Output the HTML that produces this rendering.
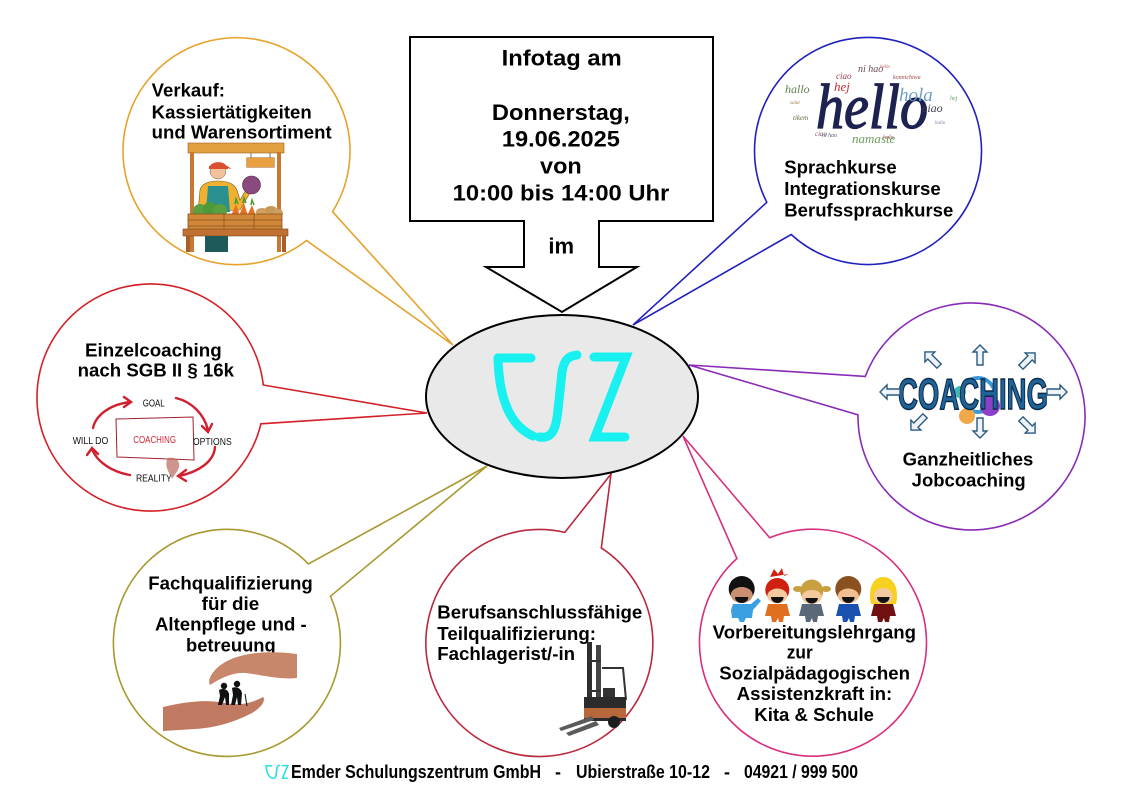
<!DOCTYPE html>
<html><head><meta charset="utf-8">
<style>
html,body{margin:0;padding:0;background:#fff;}
svg{display:block;}
.t{font-family:"Liberation Sans",Arial,sans-serif;font-weight:bold;fill:#000;}
</style></head><body>
<svg width="1123" height="794" viewBox="0 0 1123 794" xmlns="http://www.w3.org/2000/svg">
<rect width="1123" height="794" fill="#fff"/>

<!-- Bubbles with callout wedges -->
<g fill="#fff" stroke-width="1.6" stroke-linejoin="miter">
  <path d="M332.5 211.7 L453 345 L306.5 240.5 A113.5 113.5 0 1 1 332.5 211.7 Z" stroke="#e6a22c"/>
  <path d="M766.8 202.3 L633 325 L791.2 234.5 A113.5 113.5 0 1 0 766.8 202.3 Z" stroke="#2020bf"/>
  <path d="M263.3 385 L427 413 L260.9 423.8 A113.5 113.5 0 1 1 263.3 385 Z" stroke="#d42027"/>
  <path d="M865.3 376.4 L689 365 L858 414.9 A113.5 113.5 0 1 0 865.3 376.4 Z" stroke="#8a2bb8"/>
  <path d="M308.4 563.9 L487 466 L330.4 596.3 A113.5 113.5 0 1 1 308.4 563.9 Z" stroke="#a8982e"/>
  <path d="M564.8 532.4 L611 474 L601.3 547.9 A113.5 113.5 0 1 1 564.8 532.4 Z" stroke="#b8293c"/>
  <path d="M736.9 558.5 L683 436 L769.7 537.8 A113.5 113.5 0 1 1 736.9 558.5 Z" stroke="#d6307e"/>
</g>

<!-- Top callout box -->
<polygon points="410,37 713,37 713,221 599,221 599,267 637,267 562,312 486,267 524,267 524,221 410,221" fill="#fff" stroke="#000" stroke-width="2"/>
<g class="t" font-size="22" text-anchor="middle">
  <text class="t" x="561.7" y="65.7" textLength="120" lengthAdjust="spacingAndGlyphs">Infotag am</text>
  <text class="t" x="560.9" y="120" textLength="138" lengthAdjust="spacingAndGlyphs">Donnerstag,</text>
  <text class="t" x="560.9" y="146.7" textLength="118" lengthAdjust="spacingAndGlyphs">19.06.2025</text>
  <text class="t" x="560.9" y="173.5" textLength="41.7" lengthAdjust="spacingAndGlyphs">von</text>
  <text class="t" x="561" y="200.7" textLength="216.6" lengthAdjust="spacingAndGlyphs">10:00 bis 14:00 Uhr</text>
  <text class="t" x="561.2" y="253.3" textLength="25.7" lengthAdjust="spacingAndGlyphs">im</text>
</g>

<!-- Central ellipse -->
<ellipse cx="562" cy="396.5" rx="136" ry="81.5" fill="#e9e9e9" stroke="#000" stroke-width="2"/>
<g fill="none" stroke="#19f0f0" stroke-width="9" stroke-linecap="round" stroke-linejoin="round">
  <path d="M498 358 L531 358"/>
  <path d="M498 358 C499 395 508 425 533 436"/>
  <path d="M539 437 C552 439 556 430 558 410 L562 372 C564 360 568 356 577 355"/>
  <path d="M594 357 L626 357 L595 437 L625 437" stroke-linejoin="miter"/>
</g>

<!-- Bubble 1 text + market stall -->
<g class="t" font-size="18">
  <text class="t" x="151.7" y="96.7" textLength="73.3" lengthAdjust="spacingAndGlyphs">Verkauf:</text>
  <text class="t" x="151.7" y="118.3" textLength="160" lengthAdjust="spacingAndGlyphs">Kassiertätigkeiten</text>
  <text class="t" x="151.7" y="138.3" textLength="180" lengthAdjust="spacingAndGlyphs">und Warensortiment</text>
</g>
<g>
  <rect x="188" y="143" width="96" height="10" fill="#e3a040" stroke="#a06020" stroke-width="0.6"/>
  <rect x="190" y="152" width="4" height="100" fill="#c87830"/>
  <rect x="277" y="152" width="4" height="100" fill="#c87830"/>
  <line x1="251" y1="153" x2="251" y2="158" stroke="#555" stroke-width="0.8"/>
  <line x1="270" y1="153" x2="270" y2="158" stroke="#555" stroke-width="0.8"/>
  <rect x="246.7" y="157.7" width="27.6" height="9.6" fill="#e8a040" stroke="#a06020" stroke-width="0.5"/>
  <path d="M198 212 L200 190 C202 183 209 181 218 181 C227 181 234 183 237 190 L240 200 L246 190 L250 193 L240 210 Z" fill="#f0b030" stroke="#7a5a20" stroke-width="0.6"/>
  <path d="M208 186 L228 186 L230 212 L206 212 Z" fill="#2a9090"/>
  <circle cx="218" cy="171" r="8" fill="#f2c29a" stroke="#7a5a40" stroke-width="0.5"/>
  <path d="M209 169 C209 160 227 160 227 168 L232 169 L227 166 Z" fill="#d85030"/>
  <rect x="209" y="166" width="19" height="3" fill="#d85030"/>
  <circle cx="251.5" cy="185" r="9" fill="#8a4a80" stroke="#5a2a50" stroke-width="0.6"/>
  <circle cx="200" cy="211" r="7" fill="#5aa040"/>
  <circle cx="210" cy="209" r="7" fill="#4e9a38"/>
  <circle cx="220" cy="211" r="7" fill="#5aa040"/>
  <path d="M231 216 L236 204 L240 216 Z M239 216 L244 203 L248 216 Z M247 216 L252 205 L256 216 Z" fill="#e87020"/>
  <path d="M235 204 L236 199 L238 204 M243 203 L244 198 L246 203 M251 205 L252 200 L254 205" stroke="#4a9a30" stroke-width="1.5" fill="none"/>
  <ellipse cx="262" cy="212" rx="6" ry="4" fill="#d0a060"/>
  <ellipse cx="271" cy="210" rx="6" ry="4" fill="#c89858"/>
  <ellipse cx="278" cy="213" rx="5" ry="4" fill="#d0a060"/>
  <rect x="188" y="214" width="94" height="18" fill="#d08838" stroke="#8a5020" stroke-width="0.8"/>
  <line x1="188" y1="220" x2="282" y2="220" stroke="#8a5020" stroke-width="0.7"/>
  <line x1="188" y1="226" x2="282" y2="226" stroke="#8a5020" stroke-width="0.7"/>
  <line x1="224" y1="214" x2="224" y2="232" stroke="#8a5020" stroke-width="0.8"/>
  <line x1="254" y1="214" x2="254" y2="232" stroke="#8a5020" stroke-width="0.8"/>
  <rect x="183" y="229" width="105" height="7" fill="#c07030" stroke="#7a4a20" stroke-width="0.6"/>
  <rect x="186" y="236" width="4" height="16" fill="#a86028"/>
  <rect x="282" y="236" width="4" height="16" fill="#a86028"/>
  <rect x="205" y="236" width="23" height="16" fill="#1e5a5a"/>
</g>

<!-- Bubble 2 text + hello cloud -->
<g>
  <text x="816" y="128" font-family="Liberation Serif, serif" font-style="italic" font-size="64" fill="#1e2250" stroke="#1e2250" stroke-width="1.3" textLength="112" lengthAdjust="spacingAndGlyphs">hello</text>
  <g font-family="Liberation Serif, serif" font-style="italic">
    <text x="858" y="72" font-size="10" fill="#6a4a5a">ni hao</text>
    <text x="836" y="79" font-size="9" fill="#a04050">ciao</text>
    <text x="834" y="91" font-size="13" fill="#c03030">hej</text>
    <text x="785" y="93" font-size="12" fill="#608050">hallo</text>
    <text x="899" y="101" font-size="19" fill="#70a0c8">hola</text>
    <text x="922" y="112" font-size="12" fill="#404050">ciao</text>
    <text x="852" y="143" font-size="13" fill="#70a060">namaste</text>
    <text x="893" y="79" font-size="6" fill="#a04040">konnichiwa</text>
    <text x="815" y="136" font-size="7" fill="#805060">ciao</text>
    <text x="822" y="137" font-size="6" fill="#506080">ni hao</text>
    <text x="793" y="120" font-size="7" fill="#6a6a40">tikem</text>
    <text x="883" y="139" font-size="6" fill="#a05050">hola</text>
    <text x="950" y="100" font-size="6" fill="#60a060">hej</text>
    <text x="790" y="104" font-size="5" fill="#a08040">salut</text>
    <text x="880" y="68" font-size="5" fill="#b06060">hello</text>
    <text x="935" y="124" font-size="5" fill="#8080a0">hallo</text>
  </g>
</g>
<g class="t" font-size="18">
  <text class="t" x="784.3" y="173.3" textLength="112.4" lengthAdjust="spacingAndGlyphs">Sprachkurse</text>
  <text class="t" x="784.3" y="195" textLength="156.4" lengthAdjust="spacingAndGlyphs">Integrationskurse</text>
  <text class="t" x="784.3" y="216.7" textLength="169" lengthAdjust="spacingAndGlyphs">Berufssprachkurse</text>
</g>

<!-- Bubble 3 text + coaching cycle -->
<g class="t" font-size="18">
  <text class="t" x="85" y="356.7" textLength="136.7" lengthAdjust="spacingAndGlyphs">Einzelcoaching</text>
  <text class="t" x="77.7" y="376.7" textLength="156.3" lengthAdjust="spacingAndGlyphs">nach SGB II § 16k</text>
</g>
<g>
  <path d="M116 419 L193 417 L194 460 L117 457 Z" fill="#fff" stroke="#a02030" stroke-width="1"/>
  <g font-family="Liberation Sans Narrow, Liberation Sans, sans-serif" font-size="10">
    <text x="142.7" y="406.5" textLength="22" lengthAdjust="spacingAndGlyphs" fill="#111">GOAL</text>
    <text x="193" y="445" textLength="38.7" lengthAdjust="spacingAndGlyphs" fill="#111">OPTIONS</text>
    <text x="72.7" y="444" textLength="35.6" lengthAdjust="spacingAndGlyphs" fill="#111">WILL DO</text>
    <text x="136" y="481.5" textLength="35.7" lengthAdjust="spacingAndGlyphs" fill="#111">REALITY</text>
    <text x="133.3" y="443" textLength="42.7" lengthAdjust="spacingAndGlyphs" fill="#d02838">COACHING</text>
  </g>
  <g fill="none" stroke="#d02030" stroke-width="2.4" stroke-linecap="round">
    <path d="M93 428 C96 414 112 404 130 402"/>
    <path d="M124 397 L131 402 L124 407"/>
    <path d="M176 398 C192 402 204 414 208 430"/>
    <path d="M202 426 L208 432 L212 424"/>
    <path d="M215 447 C214 462 198 472 179 476"/>
    <path d="M186 470 L178 476 L186 481"/>
    <path d="M130 475 C112 472 97 462 92 449"/>
    <path d="M87 455 L92 448 L98 454"/>
  </g>
  <path d="M168 458 C176 456 182 462 178 470 C174 476 170 482 172 478 C168 472 164 464 168 458 Z" fill="#b8685a" opacity="0.7"/>
</g>

<!-- Bubble 4 text + COACHING graphic -->
<g>
  <circle cx="978" cy="395" r="17" fill="none" stroke="#3a9ad8" stroke-width="4"/>
  <circle cx="990" cy="406" r="10" fill="#8a40c8"/>
  <circle cx="967" cy="416" r="8" fill="#f0a848"/>
  <circle cx="960" cy="392" r="6" fill="#40b8b0"/>
  <text x="898" y="409" font-family="Liberation Sans, sans-serif" font-weight="bold" font-size="44" fill="#1f6498" stroke="#0c2a4a" stroke-width="1.5" textLength="150" lengthAdjust="spacingAndGlyphs">COACHING</text>
  <g fill="#eef4fa" stroke="#2a5a80" stroke-width="1.4" stroke-linejoin="miter">
    <polygon transform="translate(980,355)" points="0,-10 7,-3 3,-3 3,10 -3,10 -3,-3 -7,-3"/>
    <polygon transform="translate(980,428) rotate(180)" points="0,-10 7,-3 3,-3 3,10 -3,10 -3,-3 -7,-3"/>
    <polygon transform="translate(890,392) rotate(-90)" points="0,-10 7,-3 3,-3 3,10 -3,10 -3,-3 -7,-3"/>
    <polygon transform="translate(1057,392) rotate(90)" points="0,-10 7,-3 3,-3 3,10 -3,10 -3,-3 -7,-3"/>
    <polygon transform="translate(932,359) rotate(-45)" points="0,-10 7,-3 3,-3 3,10 -3,10 -3,-3 -7,-3"/>
    <polygon transform="translate(1028,360) rotate(45)" points="0,-10 7,-3 3,-3 3,10 -3,10 -3,-3 -7,-3"/>
    <polygon transform="translate(918,423) rotate(-135)" points="0,-10 7,-3 3,-3 3,10 -3,10 -3,-3 -7,-3"/>
    <polygon transform="translate(1028,426) rotate(135)" points="0,-10 7,-3 3,-3 3,10 -3,10 -3,-3 -7,-3"/>
  </g>
</g>
<g class="t" font-size="18">
  <text class="t" x="902.7" y="465.7" textLength="130.6" lengthAdjust="spacingAndGlyphs">Ganzheitliches</text>
  <text class="t" x="911.7" y="486.7" textLength="114" lengthAdjust="spacingAndGlyphs">Jobcoaching</text>
</g>

<!-- Bubble 5 text + hands -->
<g class="t" font-size="18">
  <text class="t" x="148.3" y="589.3" textLength="164.4" lengthAdjust="spacingAndGlyphs">Fachqualifizierung</text>
  <text class="t" x="201.7" y="610" textLength="57.6" lengthAdjust="spacingAndGlyphs">für die</text>
  <text class="t" x="155" y="630.7" textLength="151.7" lengthAdjust="spacingAndGlyphs">Altenpflege und -</text>
  <text class="t" x="186" y="651.7" textLength="89.7" lengthAdjust="spacingAndGlyphs">betreuung</text>
</g>
<g>
  <path d="M297 654 L297 678 C280 680 262 675 246 673 C233 672 221 678 210 685 C207 680 212 671 222 664 C238 653 265 650 297 654 Z" fill="#c8876a"/>
  <path d="M163 707 C185 702 205 699 225 703 C240 706 252 703 263 697 C266 700 262 707 252 713 C235 722 215 728 195 729 L163 731 Z" fill="#c07a62"/>
  <g fill="#111">
    <circle cx="224" cy="686" r="3.2"/>
    <circle cx="237" cy="684" r="3.2"/>
    <path d="M219 690 C223 688 228 689 229 694 L229 705 L226 705 L225 697 L222 705 L218 705 L220 696 Z"/>
    <path d="M232 688 C236 686 241 688 242 693 L241 705 L238 705 L237 697 L235 705 L231 705 L233 695 Z"/>
  </g>
  <line x1="245" y1="694" x2="247" y2="706" stroke="#111" stroke-width="1"/>
</g>

<!-- Bubble 6 text + forklift -->
<g class="t" font-size="18">
  <text class="t" x="437.3" y="618.3" textLength="205" lengthAdjust="spacingAndGlyphs">Berufsanschlussfähige</text>
  <text class="t" x="437.3" y="640" textLength="158.7" lengthAdjust="spacingAndGlyphs">Teilqualifizierung:</text>
  <text class="t" x="437.3" y="660" textLength="137.7" lengthAdjust="spacingAndGlyphs">Fachlagerist/-in</text>
</g>
<g>
  <rect x="587" y="642" width="5" height="76" fill="#2e2e2e"/>
  <rect x="596" y="645" width="5" height="73" fill="#444"/>
  <rect x="587" y="660" width="14" height="2" fill="#333"/>
  <rect x="587" y="690" width="14" height="2" fill="#333"/>
  <path d="M602 668 L623 668 L626 700" fill="none" stroke="#333" stroke-width="2"/>
  <rect x="603" y="688" width="12" height="10" fill="#333"/>
  <rect x="584" y="697" width="42" height="24" fill="#2b2b2b"/>
  <rect x="584" y="708" width="42" height="10" fill="#b8683a"/>
  <circle cx="614" cy="722" r="6" fill="#1e1e1e"/>
  <polygon points="592,716 559,728 561,731 594,720" fill="#5a5a5a"/>
  <polygon points="596,721 566,733 569,736 599,725" fill="#5a5a5a"/>
</g>

<!-- Bubble 7 text + kids -->
<g>
  <g>
    <path d="M733 604 L751 604 L758 598 L761 601 L753 610 L752 618 L746 618 L744 622 L740 622 L738 618 L732 618 L731 610 Z" fill="#3aa0e0"/>
    <circle cx="741.7" cy="589" r="13" fill="#111"/>
    <ellipse cx="741.7" cy="595" rx="11" ry="8" fill="#c89070"/>
    <path d="M735 597 A6.7 6 0 0 0 748.4 597 Z" fill="#111"/>
  </g>
  <g>
    <path d="M768 604 L787 604 L790 616 L784 616 L783 622 L779 622 L778 618 L776 622 L772 622 L771 616 L765 616 Z" fill="#e07020"/>
    <path d="M770 577 L774 569 L778 574 L782 568 L784 576 L789 574 Z" fill="#d02010"/>
    <circle cx="777.3" cy="590" r="12" fill="#d02010"/>
    <ellipse cx="777.3" cy="596" rx="10" ry="7.5" fill="#f5c9a0"/>
    <path d="M771 597 A6.3 6 0 0 0 783.6 597 Z" fill="#111"/>
  </g>
  <g>
    <path d="M802 604 L821 604 L824 616 L818 616 L817 622 L813 622 L812 618 L810 622 L806 622 L805 616 L799 616 Z" fill="#5a6878"/>
    <ellipse cx="798" cy="589" rx="5" ry="3" fill="#c8a040"/>
    <ellipse cx="826" cy="589" rx="5" ry="3" fill="#c8a040"/>
    <circle cx="811.7" cy="591" r="11.5" fill="#c8a040"/>
    <ellipse cx="811.7" cy="597" rx="10" ry="7" fill="#f5c9a0"/>
    <path d="M805.5 598 A6.2 5.5 0 0 0 817.9 598 Z" fill="#111"/>
  </g>
  <g>
    <path d="M839 604 L858 604 L861 616 L855 616 L854 622 L850 622 L849 618 L847 622 L843 622 L842 616 L836 616 Z" fill="#1a50b0"/>
    <circle cx="848.3" cy="589" r="13" fill="#8a5020"/>
    <ellipse cx="848.3" cy="596" rx="10.5" ry="7.5" fill="#f0c090"/>
    <path d="M842 597 A6.3 6 0 0 0 854.6 597 Z" fill="#111"/>
  </g>
  <g>
    <path d="M874 604 L893 604 L896 616 L890 616 L889 622 L885 622 L884 618 L882 622 L878 622 L877 616 L871 616 Z" fill="#701010"/>
    <path d="M871 604 C868 590 872 577 883 577 C895 577 899 590 896 604 Z" fill="#f8d020"/>
    <ellipse cx="883.3" cy="596" rx="9.5" ry="8" fill="#f5c9a0"/>
    <path d="M877 597 A6.3 6 0 0 0 889.6 597 Z" fill="#111"/>
  </g>
</g>
<g class="t" font-size="18">
  <text class="t" x="712.7" y="638.3" textLength="203.3" lengthAdjust="spacingAndGlyphs">Vorbereitungslehrgang</text>
  <text class="t" x="786.7" y="658.3" textLength="26" lengthAdjust="spacingAndGlyphs">zur</text>
  <text class="t" x="719.3" y="679.3" textLength="190.7" lengthAdjust="spacingAndGlyphs">Sozialpädagogischen</text>
  <text class="t" x="736.7" y="700" textLength="155.6" lengthAdjust="spacingAndGlyphs">Assistenzkraft in:</text>
  <text class="t" x="754.3" y="721" textLength="119.7" lengthAdjust="spacingAndGlyphs">Kita &amp; Schule</text>
</g>

<!-- Footer -->
<g transform="translate(266,765) scale(0.168,0.158) translate(-497,-353)" fill="none" stroke="#30e0e0" stroke-width="10" stroke-linecap="round">
  <path d="M498 358 L531 358"/>
  <path d="M498 358 C499 395 508 425 533 436"/>
  <path d="M539 437 C552 439 556 430 558 410 L562 372 C564 360 568 356 577 355"/>
  <path d="M594 357 L626 357 L595 437 L625 437"/>
</g>
<g class="t" font-size="18">
  <text class="t" x="291" y="778" textLength="250" lengthAdjust="spacingAndGlyphs">Emder Schulungszentrum GmbH</text>
  <text class="t" x="558" y="778" text-anchor="middle">-</text>
  <text class="t" x="576" y="778" textLength="134" lengthAdjust="spacingAndGlyphs">Ubierstraße 10-12</text>
  <text class="t" x="727" y="778" text-anchor="middle">-</text>
  <text class="t" x="744" y="778" textLength="114" lengthAdjust="spacingAndGlyphs">04921 / 999 500</text>
</g>
</svg>
</body></html>
